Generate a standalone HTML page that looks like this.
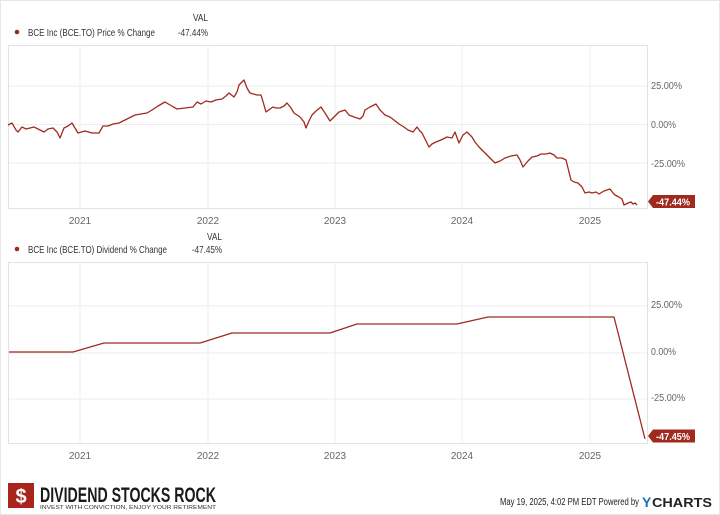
<!DOCTYPE html>
<html><head><meta charset="utf-8"><style>
html,body{margin:0;padding:0;background:#fff;}
svg{display:block;font-family:"Liberation Sans",sans-serif;}
</style></head><body>
<svg width="720" height="515" viewBox="0 0 720 515" xmlns="http://www.w3.org/2000/svg">
<rect x="0.5" y="0.5" width="719" height="514" fill="#fff" stroke="#e6e6e6"/>
<!-- legend 1 -->
<text x="193" y="21" font-size="10" fill="#333" textLength="15" lengthAdjust="spacingAndGlyphs">VAL</text>
<circle cx="17" cy="32" r="2.3" fill="#a12a1f"/>
<text x="28" y="36" font-size="10.5" fill="#333" textLength="127" lengthAdjust="spacingAndGlyphs">BCE Inc (BCE.TO) Price % Change</text>
<text x="178" y="36" font-size="10.5" fill="#333" textLength="30" lengthAdjust="spacingAndGlyphs">-47.44%</text>
<!-- plot 1 -->
<g stroke="#ececec" stroke-width="1">
<line x1="80" y1="45" x2="80" y2="208"/><line x1="208" y1="45" x2="208" y2="208"/>
<line x1="335" y1="45" x2="335" y2="208"/><line x1="462" y1="45" x2="462" y2="208"/>
<line x1="590" y1="45" x2="590" y2="208"/>
<line x1="8" y1="86" x2="648" y2="86"/><line x1="8" y1="124.5" x2="648" y2="124.5"/><line x1="8" y1="163" x2="648" y2="163"/>
</g>
<rect x="8.5" y="45.5" width="639" height="163" fill="none" stroke="#e2e2e2"/>
<polyline fill="none" stroke="#a12a1f" stroke-width="1.3" stroke-linejoin="round" points="8,125 12,123 16,130 18,132 22,127 26,129 30,128 34,127 38,129 44,132 48,129 53,128 57,132 60,138 64,128 68,126 72,123 75,128 78,133 85,131 92,133 99,133 103,126 108,126 113,124 119,123 127,119 135,115 141,114 147,113 152,110 158,106 165,102 170,105 177,109 185,108 193,107 197,102 201,104 206,101 211,102 216,100 222,99 226,96 229,93 234,97 237,92 239,85 244,80 247,88 250,93 257,95 261,95 264,105 266,112 270,109 273,107 276,108 280,108 284,106 287,103 291,108 294,113 300,117 304,122 306,128 309,121 312,115 316,111 321,107 325,113 330,121 335,116 339,112 345,110 349,115 354,117 360,119 363,116 365,110 370,107 376,104 380,110 385,115 390,117 394,120 399,124 404,127 408,130 413,132 417,127 420,131 422,133 426,141 429,147 432,144 436,142 441,140 447,137 452,138 455,132 459,143 463,135 467,132 472,137 475,142 479,147 484,152 489,157 495,163 500,161 505,158 511,156 517,155 520,160 523,167 528,161 532,157 537,156 541,154 546,154 550,153 554,155 557,158 562,158 566,160 568,168 571,180 574,182 578,183 582,187 585,193 589,192 592,193 596,192 599,194 604,191 610,189 613,193 615,195 619,197 622,199 624,205 628,203 631,202 633,204 635,203 637,205"/>
<g font-size="10" fill="#666">
<text x="651" y="89" textLength="31" lengthAdjust="spacingAndGlyphs">25.00%</text>
<text x="651" y="128" textLength="25" lengthAdjust="spacingAndGlyphs">0.00%</text>
<text x="651" y="167" textLength="34" lengthAdjust="spacingAndGlyphs">-25.00%</text>
<g text-anchor="middle">
<text x="80" y="224">2021</text><text x="208" y="224">2022</text><text x="335" y="224">2023</text><text x="462" y="224">2024</text><text x="590" y="224">2025</text>
</g>
</g>
<polygon points="648,201.5 653,195 695,195 695,208 653,208" fill="#a12a1f"/>
<text x="656" y="205.5" font-size="10" font-weight="bold" fill="#fff" textLength="34" lengthAdjust="spacingAndGlyphs">-47.44%</text>

<!-- legend 2 -->
<text x="207" y="240" font-size="10" fill="#333" textLength="15" lengthAdjust="spacingAndGlyphs">VAL</text>
<circle cx="17" cy="249" r="2.3" fill="#a12a1f"/>
<text x="28" y="253" font-size="10.5" fill="#333" textLength="139" lengthAdjust="spacingAndGlyphs">BCE Inc (BCE.TO) Dividend % Change</text>
<text x="192" y="253" font-size="10.5" fill="#333" textLength="30" lengthAdjust="spacingAndGlyphs">-47.45%</text>
<!-- plot 2 -->
<g stroke="#ececec" stroke-width="1">
<line x1="80" y1="262" x2="80" y2="443"/><line x1="208" y1="262" x2="208" y2="443"/>
<line x1="335" y1="262" x2="335" y2="443"/><line x1="462" y1="262" x2="462" y2="443"/>
<line x1="590" y1="262" x2="590" y2="443"/>
<line x1="8" y1="306" x2="648" y2="306"/><line x1="8" y1="353" x2="648" y2="353"/><line x1="8" y1="399" x2="648" y2="399"/>
</g>
<rect x="8.5" y="262.5" width="639" height="181" fill="none" stroke="#e2e2e2"/>
<polyline fill="none" stroke="#a12a1f" stroke-width="1.3" stroke-linejoin="round" points="9,352 73,352 104,343 200,343 232,333 330,333 357,324 457,324 488,317 614,317 645,439"/>
<g font-size="10" fill="#666">
<text x="651" y="308" textLength="31" lengthAdjust="spacingAndGlyphs">25.00%</text>
<text x="651" y="355" textLength="25" lengthAdjust="spacingAndGlyphs">0.00%</text>
<text x="651" y="401" textLength="34" lengthAdjust="spacingAndGlyphs">-25.00%</text>
<g text-anchor="middle">
<text x="80" y="459">2021</text><text x="208" y="459">2022</text><text x="335" y="459">2023</text><text x="462" y="459">2024</text><text x="590" y="459">2025</text>
</g>
</g>
<polygon points="648,436 653,429.5 695,429.5 695,442.5 653,442.5" fill="#a12a1f"/>
<text x="656" y="440" font-size="10" font-weight="bold" fill="#fff" textLength="34" lengthAdjust="spacingAndGlyphs">-47.45%</text>

<!-- footer -->
<rect x="8" y="483" width="26" height="25" fill="#a8251c"/>
<text x="21" y="503" font-size="20" font-weight="bold" fill="#fff" text-anchor="middle">$</text>
<text x="40" y="502" font-size="21" font-weight="bold" fill="#1a1a1a" textLength="176" lengthAdjust="spacingAndGlyphs">DIVIDEND STOCKS ROCK</text>
<text x="40" y="509" font-size="5.5" fill="#333" textLength="176" lengthAdjust="spacingAndGlyphs">INVEST WITH CONVICTION, ENJOY YOUR RETIREMENT</text>
<text x="500" y="505" font-size="10" fill="#222" textLength="139" lengthAdjust="spacingAndGlyphs">May 19, 2025, 4:02 PM EDT Powered by</text>
<text x="642" y="507" font-size="14" font-weight="bold" fill="#1b6fb5">Y</text>
<text x="652" y="507" font-size="13" font-weight="bold" fill="#222" textLength="60" lengthAdjust="spacingAndGlyphs">CHARTS</text>
</svg>
</body></html>
